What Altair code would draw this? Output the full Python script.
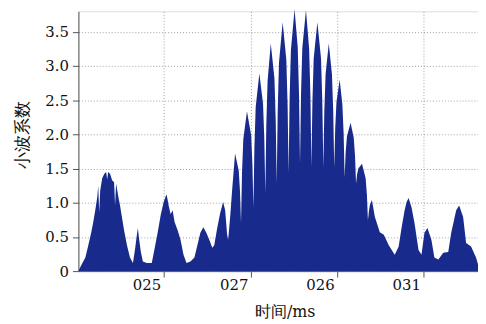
import altair as alt
import pandas as pd

# Time axis in sample units (ticks at 86, 174, 261, 348 carry the printed labels)
# Segment 1: the three low humps before the burst
hump_t = [0, 3, 7, 10, 13, 15, 17, 19, 20, 21, 22, 24, 26, 28, 29, 30, 32, 34, 36, 37, 38, 40, 42, 44,
          46, 49, 52, 55, 57, 59, 60, 61, 63, 65, 69, 74, 77, 80, 83, 86, 88, 89, 91, 93, 95, 97, 100,
          103, 106, 109, 113, 117, 120, 123, 126, 129, 132, 135, 137, 140, 143, 146, 148, 150, 151,
          153, 155, 158]
hump_c = [0.00, 0.09, 0.20, 0.38, 0.57, 0.72, 0.89, 1.08, 1.25, 0.86, 1.18, 1.36, 1.42, 1.45, 1.34,
          1.45, 1.42, 1.33, 1.30, 0.96, 1.28, 1.11, 0.96, 0.78, 0.60, 0.38, 0.20, 0.12, 0.31, 0.53,
          0.63, 0.49, 0.28, 0.14, 0.12, 0.12, 0.34, 0.57, 0.82, 1.01, 1.09, 1.12, 0.96, 0.83, 0.89,
          0.72, 0.60, 0.46, 0.24, 0.12, 0.14, 0.20, 0.38, 0.56, 0.64, 0.56, 0.46, 0.34, 0.38, 0.63,
          0.85, 1.01, 0.89, 0.53, 0.46, 0.78, 1.18, 1.72]
# Segment 2: the burst of narrow spikes
burst_t = [161.7, 163, 164,
           165, 166.3, 170, 174.2, 175.5, 176.5,
           177.5, 178.8, 182.5, 186.2, 187.5, 188.5,
           189.5, 190.8, 194, 197.7, 199, 200,
           201, 202.3, 206, 209.7, 211, 212,
           213, 214.3, 218, 221.2, 222.5, 223.5,
           224.5, 225.8, 229.5, 232.7, 234, 235,
           236, 237.3, 241, 244.7, 246, 247,
           248, 249.3, 252.5, 255.7, 257, 258,
           259, 260.3, 263.5, 266.2, 267.5, 268.5,
           269.5, 270.8, 274.5, 277.7, 279, 280,
           281, 282.3, 286, 289.7, 291, 292,
           293, 294, 296]
burst_c = [1.47, 1.16, 0.70,
           1.44, 1.93, 2.34, 1.99, 1.56, 0.93,
           1.81, 2.40, 2.89, 2.45, 1.93, 1.14,
           2.13, 2.78, 3.33, 2.82, 2.20, 1.28,
           2.34, 3.05, 3.64, 3.09, 2.42, 1.43,
           2.51, 3.23, 3.83, 3.27, 2.59, 1.57,
           2.58, 3.26, 3.82, 3.25, 2.56, 1.52,
           2.47, 3.11, 3.64, 3.11, 2.47, 1.51,
           2.33, 2.88, 3.33, 2.88, 2.33, 1.51,
           2.09, 2.48, 2.80, 2.44, 2.01, 1.37,
           1.73, 1.97, 2.17, 1.95, 1.68, 1.28,
           1.41, 1.50, 1.57, 1.36, 1.11, 0.74,
           0.88, 0.97, 1.04]
# Segment 3: the decaying tail
tail_t = [299, 304, 308, 313, 319, 323, 326, 329, 331, 333, 336, 339, 343, 346, 349, 352, 356, 359,
          363, 368, 373, 376, 381, 384, 388, 391, 396, 401, 404]
tail_c = [0.79, 0.57, 0.53, 0.38, 0.24, 0.36, 0.64, 0.89, 1.01, 1.07, 0.93, 0.70, 0.31, 0.24, 0.56,
          0.63, 0.46, 0.20, 0.17, 0.27, 0.28, 0.56, 0.89, 0.96, 0.79, 0.41, 0.36, 0.20, 0.05]

tick_values = [86, 174, 261, 348]
tick_labels = ["025", "027", "026", "031"]
y_ticks = [0, 0.5, 1.0, 1.5, 2.0, 2.5, 3.0, 3.5]

times = hump_t + burst_t + tail_t
coefs = hump_c + burst_c + tail_c
assert len(times) == len(coefs)
df = pd.DataFrame({"t": times, "c": coefs})

label_map = "{" + ",".join(f"'{v}':'{l}'" for v, l in zip(tick_values, tick_labels)) + "}"

num_font = "DejaVu Serif"
cjk_font = "DejaVu Serif"

chart = alt.Chart(df).mark_area(
    color="#182b8c", interpolate="linear", clip=False
).encode(
    x=alt.X("t:Q",
            scale=alt.Scale(domain=[0, 403], nice=False, zero=False),
            axis=alt.Axis(
                values=tick_values,
                labelExpr=f"{label_map}[toString(datum.value)]",
                title="时间/ms",
                titleFont=cjk_font, titleFontSize=16, titleFontWeight="normal",
                titleColor="#111", titleX=208, titleY=33, titleBaseline="top",
                labelFont=num_font, labelFontSize=15, labelColor="#111",
                labelAlign="right", labelOffset=-3, labelPadding=1, labelBaseline="top",
                tickSize=6, tickColor="#555", domainColor="#555",
                grid=True, gridDash=[1, 2], gridColor="#888", gridOpacity=0.8,
            )),
    y=alt.Y("c:Q",
            scale=alt.Scale(domain=[0, 3.8], nice=False),
            axis=alt.Axis(
                values=y_ticks,
                labelExpr="datum.value == 0 ? '0' : format(datum.value, '.1f')",
                title="小波系数",
                titleFont=cjk_font, titleFontSize=17, titleFontWeight="normal",
                titleColor="#111", titleAngle=270, titleX=-56, titleY=124,
                titleAlign="center", titleBaseline="middle",
                labelFont=num_font, labelFontSize=15, labelColor="#111",
                labelPadding=4, tickSize=6, tickColor="#555", domainColor="#555",
                grid=True, gridDash=[1, 2], gridColor="#888", gridOpacity=0.8,
            )),
).properties(
    width=403, height=262,
    autosize=alt.AutoSizeParams(type="none"),
    padding={"left": 71, "top": 2, "right": 0, "bottom": 52},
).configure_view(stroke=None).configure(background="white")

chart.save("out.html", embed_options={"renderer": "svg", "actions": False})
